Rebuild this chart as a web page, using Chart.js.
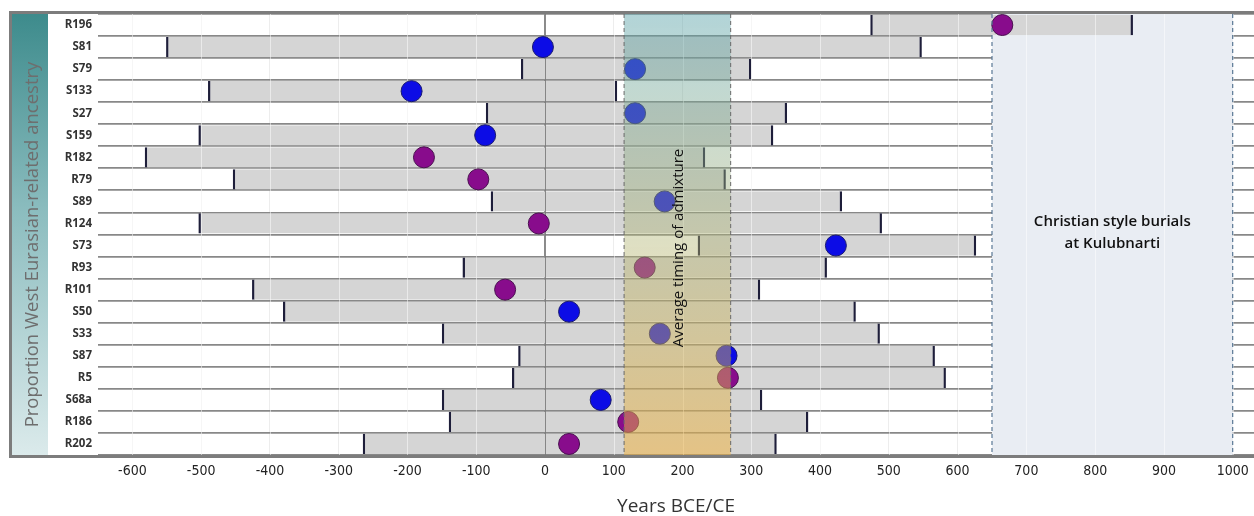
<!DOCTYPE html>
<html lang="en">
<head>
<meta charset="UTF-8">
<title>Admixture timing - Kulubnarti</title>
<style>
  html, body { margin: 0; padding: 0; background: #fff; }
  #wrap { width: 1254px; height: 516px; }
</style>
</head>
<body>
<div id="wrap"><canvas id="chart" width="1254" height="516"></canvas></div>
<script src="https://cdn.jsdelivr.net/npm/chart.js"></script>
<script>
// samples, top to bottom
const samples = ['R196', 'S81', 'S79', 'S133', 'S27', 'S159', 'R182', 'R79', 'S89', 'R124',
                 'S73', 'R93', 'R101', 'S50', 'S33', 'S87', 'R5', 'S68a', 'R186', 'R202'];
// admixture date interval (years BCE/CE)
const lowerBound = [473, -551, -35, -490, -86, -504, -582, -454, -79, -504,
                    222, -120, -426, -381, -150, -39, -48, -150, -140, -265];
const upperBound = [855, 548, 300, 105, 352, 332, 233, 263, 432, 490,
                    627, 410, 313, 452, 487, 567, 583, 316, 383, 337];
const pointEstimate = [665, -3, 131, -194, 131, -87, -176, -97, 174, -9,
                       423, 145, -58, 35, 167, 264, 266, 81, 121, 35];
const xTicks = [-600, -500, -400, -300, -200, -100, 0, 100, 200, 300, 400, 500, 600, 700, 800, 900, 1000];
const admixtureWindow = [115, 270];
const christianPeriod = [650, 1000];

const dotColors = samples.map(s => s[0] === 'R' ? '#880c8c' : '#0c0ce6');
const dotBorders = samples.map(s => s[0] === 'R' ? '#4a1050' : '#1a1a70');

const decorations = {
    id: 'decorations',
    beforeDraw(chart) {
        const {ctx, chartArea} = chart;
        const h = chartArea.bottom - chartArea.top;
        const g = ctx.createLinearGradient(0, chartArea.top, 0, chartArea.bottom);
        g.addColorStop(0, '#3d8b8c');
        g.addColorStop(0.45, '#8cbdbf');
        g.addColorStop(1, '#dbeaeb');
        ctx.save();
        ctx.fillStyle = g;
        ctx.fillRect(11, chartArea.top, 37, h);
        ctx.translate(33, chartArea.top + h / 2 + 10);
        ctx.rotate(-Math.PI / 2);
        ctx.font = '18.5px "Open Sans", sans-serif';
        ctx.fillStyle = '#6e6e6e';
        ctx.textAlign = 'center';
        ctx.textBaseline = 'middle';
        ctx.fillText('Proportion West Eurasian-related ancestry', 0, 0);
        ctx.restore();
    },
    beforeDatasetsDraw(chart) {
        const {ctx, chartArea, scales: {x}} = chart;
        const x0 = x.getPixelForValue(christianPeriod[0]);
        const x1 = x.getPixelForValue(christianPeriod[1]);
        ctx.save();
        ctx.fillStyle = '#e9edf3';
        ctx.fillRect(x0, chartArea.top, x1 - x0, chartArea.bottom - chartArea.top);
        ctx.restore();
    },
    afterDatasetDraw(chart, args) {
        // faint grid over the grey bars, zero line darker
        if (args.index !== 1) return;
        const {ctx, chartArea, scales: {x}} = chart;
        ctx.save();
        x.ticks.forEach(t => {
            const px = Math.round(x.getPixelForValue(t.value)) + 0.5;
            ctx.strokeStyle = t.value === 0 ? 'rgba(120,120,120,0.85)' : 'rgba(255,255,255,0.5)';
            ctx.lineWidth = 1;
            ctx.beginPath();
            ctx.moveTo(px, chartArea.top);
            ctx.lineTo(px, chartArea.bottom);
            ctx.stroke();
        });
        ctx.restore();
    },
    afterDatasetsDraw(chart) {
        const {ctx, chartArea, scales: {x}} = chart;
        const top = chartArea.top, bottom = chartArea.bottom;
        const a0 = x.getPixelForValue(admixtureWindow[0]);
        const a1 = x.getPixelForValue(admixtureWindow[1]);
        const g = ctx.createLinearGradient(0, top, 0, bottom);
        g.addColorStop(0, 'rgba(85,160,168,0.45)');
        g.addColorStop(0.5, 'rgba(175,180,115,0.42)');
        g.addColorStop(1, 'rgba(242,178,60,0.52)');
        ctx.save();
        ctx.fillStyle = g;
        ctx.fillRect(a0, top, a1 - a0, bottom - top);

        ctx.setLineDash([4, 3]);
        ctx.lineWidth = 1;
        ctx.strokeStyle = '#6a6a6a';
        [a0, a1].forEach(px => {
            ctx.beginPath();
            ctx.moveTo(px, top);
            ctx.lineTo(px, bottom);
            ctx.stroke();
        });
        ctx.strokeStyle = '#5a7896';
        ctx.lineWidth = 1.2;
        christianPeriod.forEach(v => {
            const px = x.getPixelForValue(v);
            ctx.beginPath();
            ctx.moveTo(px, top);
            ctx.lineTo(px, bottom);
            ctx.stroke();
        });
        ctx.setLineDash([]);

        ctx.fillStyle = '#111';
        ctx.textAlign = 'center';
        ctx.textBaseline = 'middle';
        ctx.font = '600 15px "Open Sans", sans-serif';
        const cx = (x.getPixelForValue(christianPeriod[0]) + x.getPixelForValue(christianPeriod[1])) / 2;
        ctx.fillText('Christian style burials', cx, 222);
        ctx.fillText('at Kulubnarti', cx, 244);

        ctx.translate((a0 + a1) / 2 + 1, 248);
        ctx.rotate(-Math.PI / 2);
        ctx.font = '15px "Open Sans", sans-serif';
        ctx.fillText('Average timing of admixture', 0, 0);
        ctx.restore();
    },
    afterDraw(chart) {
        const {ctx, chartArea} = chart;
        ctx.save();
        ctx.strokeStyle = '#7c7c7c';
        ctx.lineWidth = 3;
        ctx.strokeRect(10.5, chartArea.top - 1.5, 1260, chartArea.bottom - chartArea.top + 3);
        ctx.restore();
    }
};

new Chart(document.getElementById('chart'), {
    type: 'bar',
    data: {
        labels: samples,
        datasets: [{
            type: 'line',
            indexAxis: 'y',
            data: pointEstimate,
            showLine: false,
            pointRadius: 10.5,
            pointHoverRadius: 10.5,
            pointBackgroundColor: dotColors,
            pointBorderColor: dotBorders,
            pointBorderWidth: 1,
            order: 0
        }, {
            type: 'bar',
            data: lowerBound.map((lo, i) => [lo, upperBound[i]]),
            backgroundColor: '#d5d5d5',
            borderColor: '#1e1e3a',
            borderWidth: {left: 2.5, right: 2.5, top: 0, bottom: 0},
            borderSkipped: false,
            barPercentage: 0.92,
            categoryPercentage: 1,
            order: 1
        }]
    },
    options: {
        indexAxis: 'y',
        responsive: false,
        animation: false,
        devicePixelRatio: 1,
        layout: { autoPadding: false, padding: { top: 14, left: 0, right: 0, bottom: 0 } },
        scales: {
            x: {
                type: 'linear',
                position: 'bottom',
                min: -650,
                max: 1031,
                afterBuildTicks: s => { s.ticks = xTicks.map(v => ({ value: v })); },
                afterFit: s => { s.height = 61; s.paddingLeft = 0; s.paddingRight = 0; },
                border: { display: false },
                grid: {
                    drawTicks: false,
                    color: c => c.tick && c.tick.value === 0 ? '#8a8a8a' : '#ededed'
                },
                ticks: {
                    padding: 8,
                    color: '#222',
                    callback: v => String(v),
                    font: { family: "'Liberation Sans Narrow', 'DejaVu Sans Condensed', sans-serif", size: 14 }
                },
                title: {
                    display: true,
                    text: 'Years BCE/CE',
                    color: '#333',
                    padding: 0,
                    font: { family: "'Open Sans', sans-serif", size: 19, lineHeight: 1 }
                }
            },
            y: {
                type: 'category',
                afterFit: s => { s.width = 98; },
                border: { display: false },
                grid: {
                    offset: true,
                    drawTicks: false,
                    color: '#888',
                    lineWidth: 1.8
                },
                ticks: {
                    padding: 6,
                    color: '#333',
                    font: { family: "'Open Sans', sans-serif", size: 11.5, weight: 'bold' }
                }
            }
        },
        plugins: {
            legend: { display: false },
            tooltip: { enabled: false }
        }
    },
    plugins: [decorations]
});
</script>
</body>
</html>
